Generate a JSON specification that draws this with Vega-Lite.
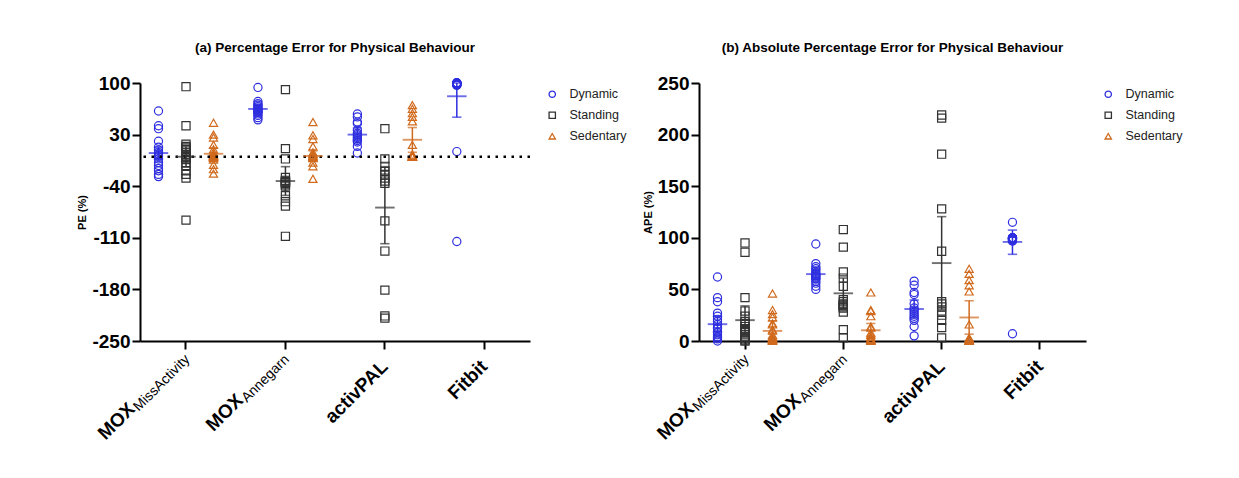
{
  "$schema": "https://vega.github.io/schema/vega-lite/v6.json",
  "padding": {"left": 76, "top": 40, "right": 5, "bottom": 5},
  "spacing": 10,
  "datasets": {
    "pts": [
      {"device":"MOX_MissActivity","group":"Dynamic","pe":62,"ape":62},
      {"device":"MOX_MissActivity","group":"Dynamic","pe":42,"ape":42},
      {"device":"MOX_MissActivity","group":"Dynamic","pe":38,"ape":38},
      {"device":"MOX_MissActivity","group":"Dynamic","pe":21,"ape":21},
      {"device":"MOX_MissActivity","group":"Dynamic","pe":13,"ape":13},
      {"device":"MOX_MissActivity","group":"Dynamic","pe":9,"ape":9},
      {"device":"MOX_MissActivity","group":"Dynamic","pe":6,"ape":6},
      {"device":"MOX_MissActivity","group":"Dynamic","pe":4,"ape":4},
      {"device":"MOX_MissActivity","group":"Dynamic","pe":2,"ape":2},
      {"device":"MOX_MissActivity","group":"Dynamic","pe":0,"ape":0},
      {"device":"MOX_MissActivity","group":"Dynamic","pe":-3,"ape":3},
      {"device":"MOX_MissActivity","group":"Dynamic","pe":-8,"ape":8},
      {"device":"MOX_MissActivity","group":"Dynamic","pe":-12,"ape":12},
      {"device":"MOX_MissActivity","group":"Dynamic","pe":-16,"ape":16},
      {"device":"MOX_MissActivity","group":"Dynamic","pe":-19,"ape":19},
      {"device":"MOX_MissActivity","group":"Dynamic","pe":-24,"ape":24},
      {"device":"MOX_MissActivity","group":"Dynamic","pe":-27,"ape":27},
      {"device":"MOX_MissActivity","group":"Standing","pe":95,"ape":95},
      {"device":"MOX_MissActivity","group":"Standing","pe":42,"ape":42},
      {"device":"MOX_MissActivity","group":"Standing","pe":17,"ape":17},
      {"device":"MOX_MissActivity","group":"Standing","pe":14,"ape":14},
      {"device":"MOX_MissActivity","group":"Standing","pe":12,"ape":12},
      {"device":"MOX_MissActivity","group":"Standing","pe":10,"ape":10},
      {"device":"MOX_MissActivity","group":"Standing","pe":6,"ape":6},
      {"device":"MOX_MissActivity","group":"Standing","pe":3,"ape":3},
      {"device":"MOX_MissActivity","group":"Standing","pe":1,"ape":1},
      {"device":"MOX_MissActivity","group":"Standing","pe":0,"ape":0},
      {"device":"MOX_MissActivity","group":"Standing","pe":-2,"ape":2},
      {"device":"MOX_MissActivity","group":"Standing","pe":-4,"ape":4},
      {"device":"MOX_MissActivity","group":"Standing","pe":-8,"ape":8},
      {"device":"MOX_MissActivity","group":"Standing","pe":-12,"ape":12},
      {"device":"MOX_MissActivity","group":"Standing","pe":-19,"ape":19},
      {"device":"MOX_MissActivity","group":"Standing","pe":-24,"ape":24},
      {"device":"MOX_MissActivity","group":"Standing","pe":-29,"ape":29},
      {"device":"MOX_MissActivity","group":"Standing","pe":-86,"ape":86},
      {"device":"MOX_MissActivity","group":"Sedentary","pe":46,"ape":46},
      {"device":"MOX_MissActivity","group":"Sedentary","pe":30,"ape":30},
      {"device":"MOX_MissActivity","group":"Sedentary","pe":26,"ape":26},
      {"device":"MOX_MissActivity","group":"Sedentary","pe":16,"ape":16},
      {"device":"MOX_MissActivity","group":"Sedentary","pe":10,"ape":10},
      {"device":"MOX_MissActivity","group":"Sedentary","pe":6,"ape":6},
      {"device":"MOX_MissActivity","group":"Sedentary","pe":3,"ape":3},
      {"device":"MOX_MissActivity","group":"Sedentary","pe":2,"ape":2},
      {"device":"MOX_MissActivity","group":"Sedentary","pe":1,"ape":1},
      {"device":"MOX_MissActivity","group":"Sedentary","pe":0,"ape":0},
      {"device":"MOX_MissActivity","group":"Sedentary","pe":0,"ape":0},
      {"device":"MOX_MissActivity","group":"Sedentary","pe":-1,"ape":1},
      {"device":"MOX_MissActivity","group":"Sedentary","pe":-2,"ape":2},
      {"device":"MOX_MissActivity","group":"Sedentary","pe":-4,"ape":4},
      {"device":"MOX_MissActivity","group":"Sedentary","pe":-11,"ape":11},
      {"device":"MOX_MissActivity","group":"Sedentary","pe":-17,"ape":17},
      {"device":"MOX_MissActivity","group":"Sedentary","pe":-23,"ape":23},
      {"device":"MOX_Annegarn","group":"Dynamic","pe":94,"ape":94},
      {"device":"MOX_Annegarn","group":"Dynamic","pe":75,"ape":75},
      {"device":"MOX_Annegarn","group":"Dynamic","pe":72,"ape":72},
      {"device":"MOX_Annegarn","group":"Dynamic","pe":70,"ape":70},
      {"device":"MOX_Annegarn","group":"Dynamic","pe":68,"ape":68},
      {"device":"MOX_Annegarn","group":"Dynamic","pe":66,"ape":66},
      {"device":"MOX_Annegarn","group":"Dynamic","pe":65,"ape":65},
      {"device":"MOX_Annegarn","group":"Dynamic","pe":64,"ape":64},
      {"device":"MOX_Annegarn","group":"Dynamic","pe":63,"ape":63},
      {"device":"MOX_Annegarn","group":"Dynamic","pe":62,"ape":62},
      {"device":"MOX_Annegarn","group":"Dynamic","pe":61,"ape":61},
      {"device":"MOX_Annegarn","group":"Dynamic","pe":60,"ape":60},
      {"device":"MOX_Annegarn","group":"Dynamic","pe":58,"ape":58},
      {"device":"MOX_Annegarn","group":"Dynamic","pe":56,"ape":56},
      {"device":"MOX_Annegarn","group":"Dynamic","pe":53,"ape":53},
      {"device":"MOX_Annegarn","group":"Dynamic","pe":50,"ape":50},
      {"device":"MOX_Annegarn","group":"Standing","pe":91,"ape":91},
      {"device":"MOX_Annegarn","group":"Standing","pe":11,"ape":11},
      {"device":"MOX_Annegarn","group":"Standing","pe":-3,"ape":3},
      {"device":"MOX_Annegarn","group":"Standing","pe":-28,"ape":28},
      {"device":"MOX_Annegarn","group":"Standing","pe":-32,"ape":32},
      {"device":"MOX_Annegarn","group":"Standing","pe":-33,"ape":33},
      {"device":"MOX_Annegarn","group":"Standing","pe":-34,"ape":34},
      {"device":"MOX_Annegarn","group":"Standing","pe":-35,"ape":35},
      {"device":"MOX_Annegarn","group":"Standing","pe":-36,"ape":36},
      {"device":"MOX_Annegarn","group":"Standing","pe":-38,"ape":38},
      {"device":"MOX_Annegarn","group":"Standing","pe":-40,"ape":40},
      {"device":"MOX_Annegarn","group":"Standing","pe":-53,"ape":53},
      {"device":"MOX_Annegarn","group":"Standing","pe":-61,"ape":61},
      {"device":"MOX_Annegarn","group":"Standing","pe":-67,"ape":67},
      {"device":"MOX_Annegarn","group":"Standing","pe":-108,"ape":108},
      {"device":"MOX_Annegarn","group":"Sedentary","pe":47,"ape":47},
      {"device":"MOX_Annegarn","group":"Sedentary","pe":29,"ape":29},
      {"device":"MOX_Annegarn","group":"Sedentary","pe":24,"ape":24},
      {"device":"MOX_Annegarn","group":"Sedentary","pe":14,"ape":14},
      {"device":"MOX_Annegarn","group":"Sedentary","pe":6,"ape":6},
      {"device":"MOX_Annegarn","group":"Sedentary","pe":4,"ape":4},
      {"device":"MOX_Annegarn","group":"Sedentary","pe":2,"ape":2},
      {"device":"MOX_Annegarn","group":"Sedentary","pe":1,"ape":1},
      {"device":"MOX_Annegarn","group":"Sedentary","pe":0,"ape":0},
      {"device":"MOX_Annegarn","group":"Sedentary","pe":0,"ape":0},
      {"device":"MOX_Annegarn","group":"Sedentary","pe":-1,"ape":1},
      {"device":"MOX_Annegarn","group":"Sedentary","pe":-2,"ape":2},
      {"device":"MOX_Annegarn","group":"Sedentary","pe":-8,"ape":8},
      {"device":"MOX_Annegarn","group":"Sedentary","pe":-13,"ape":13},
      {"device":"MOX_Annegarn","group":"Sedentary","pe":-30,"ape":30},
      {"device":"activPAL","group":"Dynamic","pe":58,"ape":58},
      {"device":"activPAL","group":"Dynamic","pe":54,"ape":54},
      {"device":"activPAL","group":"Dynamic","pe":47,"ape":47},
      {"device":"activPAL","group":"Dynamic","pe":45,"ape":45},
      {"device":"activPAL","group":"Dynamic","pe":36,"ape":36},
      {"device":"activPAL","group":"Dynamic","pe":32,"ape":32},
      {"device":"activPAL","group":"Dynamic","pe":30,"ape":30},
      {"device":"activPAL","group":"Dynamic","pe":28,"ape":28},
      {"device":"activPAL","group":"Dynamic","pe":26,"ape":26},
      {"device":"activPAL","group":"Dynamic","pe":24,"ape":24},
      {"device":"activPAL","group":"Dynamic","pe":22,"ape":22},
      {"device":"activPAL","group":"Dynamic","pe":20,"ape":20},
      {"device":"activPAL","group":"Dynamic","pe":14,"ape":14},
      {"device":"activPAL","group":"Dynamic","pe":5,"ape":5},
      {"device":"activPAL","group":"Standing","pe":38,"ape":38},
      {"device":"activPAL","group":"Standing","pe":-3,"ape":3},
      {"device":"activPAL","group":"Standing","pe":-13,"ape":13},
      {"device":"activPAL","group":"Standing","pe":-20,"ape":20},
      {"device":"activPAL","group":"Standing","pe":-25,"ape":25},
      {"device":"activPAL","group":"Standing","pe":-29,"ape":29},
      {"device":"activPAL","group":"Standing","pe":-33,"ape":33},
      {"device":"activPAL","group":"Standing","pe":-36,"ape":36},
      {"device":"activPAL","group":"Standing","pe":-87,"ape":87},
      {"device":"activPAL","group":"Standing","pe":-128,"ape":128},
      {"device":"activPAL","group":"Standing","pe":-181,"ape":181},
      {"device":"activPAL","group":"Standing","pe":-216,"ape":216},
      {"device":"activPAL","group":"Standing","pe":-219,"ape":219},
      {"device":"activPAL","group":"Sedentary","pe":70,"ape":70},
      {"device":"activPAL","group":"Sedentary","pe":65,"ape":65},
      {"device":"activPAL","group":"Sedentary","pe":59,"ape":59},
      {"device":"activPAL","group":"Sedentary","pe":54,"ape":54},
      {"device":"activPAL","group":"Sedentary","pe":48,"ape":48},
      {"device":"activPAL","group":"Sedentary","pe":16,"ape":16},
      {"device":"activPAL","group":"Sedentary","pe":3,"ape":3},
      {"device":"activPAL","group":"Sedentary","pe":2,"ape":2},
      {"device":"activPAL","group":"Sedentary","pe":1,"ape":1},
      {"device":"activPAL","group":"Sedentary","pe":0,"ape":0},
      {"device":"activPAL","group":"Sedentary","pe":0,"ape":0},
      {"device":"activPAL","group":"Sedentary","pe":0,"ape":0},
      {"device":"activPAL","group":"Sedentary","pe":0,"ape":0},
      {"device":"activPAL","group":"Sedentary","pe":0,"ape":0},
      {"device":"Fitbit","group":"Dynamic","pe":100,"ape":100},
      {"device":"Fitbit","group":"Dynamic","pe":100,"ape":100},
      {"device":"Fitbit","group":"Dynamic","pe":100,"ape":100},
      {"device":"Fitbit","group":"Dynamic","pe":100,"ape":100},
      {"device":"Fitbit","group":"Dynamic","pe":100,"ape":100},
      {"device":"Fitbit","group":"Dynamic","pe":100,"ape":100},
      {"device":"Fitbit","group":"Dynamic","pe":99,"ape":99},
      {"device":"Fitbit","group":"Dynamic","pe":99,"ape":99},
      {"device":"Fitbit","group":"Dynamic","pe":99,"ape":99},
      {"device":"Fitbit","group":"Dynamic","pe":99,"ape":99},
      {"device":"Fitbit","group":"Dynamic","pe":98,"ape":98},
      {"device":"Fitbit","group":"Dynamic","pe":98,"ape":98},
      {"device":"Fitbit","group":"Dynamic","pe":98,"ape":98},
      {"device":"Fitbit","group":"Dynamic","pe":97,"ape":97},
      {"device":"Fitbit","group":"Dynamic","pe":97,"ape":97},
      {"device":"Fitbit","group":"Dynamic","pe":7,"ape":7},
      {"device":"Fitbit","group":"Dynamic","pe":-115,"ape":115}
    ],
    "sum": [
      {"device":"MOX_MissActivity","group":"Dynamic","pe_mean":5,"pe_lo":-3,"pe_hi":13,"ape_mean":16.3,"ape_lo":9,"ape_hi":24},
      {"device":"MOX_MissActivity","group":"Standing","pe_mean":0,"pe_lo":-14,"pe_hi":14,"ape_mean":20.2,"ape_lo":6,"ape_hi":34},
      {"device":"MOX_MissActivity","group":"Sedentary","pe_mean":4,"pe_lo":-4,"pe_hi":12,"ape_mean":9.8,"ape_lo":1,"ape_hi":19.5},
      {"device":"MOX_Annegarn","group":"Dynamic","pe_mean":64.8,"pe_lo":60,"pe_hi":70,"ape_mean":64.8,"ape_lo":60,"ape_hi":70},
      {"device":"MOX_Annegarn","group":"Standing","pe_mean":-33,"pe_lo":-52.5,"pe_hi":-13.5,"ape_mean":46.2,"ape_lo":31,"ape_hi":61},
      {"device":"MOX_Annegarn","group":"Sedentary","pe_mean":1,"pe_lo":-6,"pe_hi":8,"ape_mean":10.4,"ape_lo":4,"ape_hi":17},
      {"device":"activPAL","group":"Dynamic","pe_mean":30,"pe_lo":22,"pe_hi":39,"ape_mean":31,"ape_lo":22.3,"ape_hi":39.7},
      {"device":"activPAL","group":"Standing","pe_mean":-69,"pe_lo":-118,"pe_hi":-13.5,"ape_mean":75.5,"ape_lo":30.5,"ape_hi":120.5},
      {"device":"activPAL","group":"Sedentary","pe_mean":23,"pe_lo":6,"pe_hi":39.6,"ape_mean":22.8,"ape_lo":6.6,"ape_hi":39},
      {"device":"Fitbit","group":"Dynamic","pe_mean":82,"pe_lo":53.6,"pe_hi":100,"ape_mean":96,"ape_lo":84,"ape_hi":107.5}
    ]
  },
  "config": {
    "font": "Liberation Sans",
    "view": {"stroke": null},
    "axis": {
      "grid": false,
      "domainColor": "#000", "domainWidth": 2,
      "tickColor": "#000", "tickWidth": 2, "tickSize": 8,
      "labelColor": "#000", "labelFont": "Liberation Sans", "labelFontWeight": "bold", "labelFontSize": 19,
      "titleFont": "Liberation Sans", "titleFontWeight": "bold", "titleFontSize": 11, "titleColor": "#000"
    },
    "legend": {
      "orient": "right", "offset": 11, "padding": 5,
      "labelFont": "Liberation Sans", "labelFontSize": 12.5, "labelColor": "#222",
      "symbolSize": 40, "symbolStrokeWidth": 1.3, "rowPadding": 8, "labelOffset": 11
    },
    "title": {"font": "Liberation Sans", "fontSize": 13.5, "fontWeight": "bold", "color": "#000", "offset": 20, "anchor": "middle"}
  },
  "resolve": {
    "scale": {"color": "independent", "shape": "independent"},
    "legend": {"color": "independent", "shape": "independent"}
  },
  "hconcat": [
    {
      "title": {"text": "(a) Percentage Error for Physical Behaviour"},
      "width": 390, "height": 258,
      "resolve": {"axis": {"x": "independent"}},
      "layer": [
        {
          "data": {"name": "pts"},
          "mark": {"type": "point", "filled": false, "strokeWidth": 1.2, "opacity": 1, "size": 66},
          "encoding": {
            "x": {"field": "device", "type": "nominal",
              "scale": {"type": "band", "domain": ["MOX_MissActivity", "MOX_Annegarn", "activPAL", "Fitbit"], "paddingInner": 0.078, "paddingOuter": 0},
              "axis": {"title": null, "orient": "bottom", "labelAngle": -45, "labelAlign": "right", "labelBaseline": "middle", "labelPadding": 14,
                "labelExpr": "(datum.value == 'MOX_MissActivity' || datum.value == 'MOX_Annegarn') ? '' : datum.value"}},
            "xOffset": {"field": "group", "type": "nominal", "scale": {"type": "point", "domain": ["Dynamic", "Standing", "Sedentary"], "range": [18.5, 73.5], "padding": 0}},
            "y": {"field": "pe", "type": "quantitative",
              "scale": {"domain": [-250, 100], "nice": false, "zero": false},
              "axis": {"title": "PE (%)", "values": [-250, -180, -110, -40, 30, 100], "labelExpr": "'' + datum.value", "labelPadding": 2, "titlePadding": 4}},
            "color": {"field": "group", "type": "nominal", "scale": {"domain": ["Dynamic", "Standing", "Sedentary"], "range": ["#2e2ee0", "#333333", "#d06a1c"]}, "legend": {"title": null}},
            "shape": {"field": "group", "type": "nominal", "scale": {"domain": ["Dynamic", "Standing", "Sedentary"], "range": ["circle", "square", "triangle-up"]}, "legend": {"title": null}}
          }
        },
        {
          "data": {"values": [{}]},
          "mark": {"type": "rule", "strokeDash": [2.5, 5.5], "strokeWidth": 2.5, "color": "#000"},
          "encoding": {"y": {"datum": 0, "type": "quantitative", "axis": {"title": "PE (%)", "values": [-250, -180, -110, -40, 30, 100], "labelExpr": "'' + datum.value", "labelPadding": 2, "titlePadding": 4}}}
        },
        {
          "data": {"name": "sum"},
          "mark": {"type": "rule", "strokeWidth": 1.5},
          "encoding": {
            "x": {"field": "device", "type": "nominal",
              "axis": {"title": null, "orient": "bottom", "domain": false, "ticks": false, "labelAngle": -45, "labelAlign": "right", "labelBaseline": "middle",
                "labelOffset": -54, "labelPadding": 64.5,
                "labelExpr": "datum.value == 'MOX_MissActivity' ? 'MOX' : ''"}},
            "xOffset": {"field": "group", "type": "nominal"},
            "y": {"field": "pe_lo", "type": "quantitative", "axis": {"title": "PE (%)", "values": [-250, -180, -110, -40, 30, 100], "labelExpr": "'' + datum.value", "labelPadding": 2, "titlePadding": 4}},
            "y2": {"field": "pe_hi"},
            "color": {"field": "group", "type": "nominal", "legend": {"title": null}}
          }
        },
        {
          "data": {"name": "sum"},
          "mark": {"type": "tick", "size": 8, "thickness": 0.3, "filled": false, "strokeWidth": 1.3},
          "encoding": {
            "x": {"field": "device", "type": "nominal",
              "axis": {"title": null, "orient": "bottom", "domain": false, "ticks": false, "labelAngle": -45, "labelAlign": "right", "labelBaseline": "middle",
                "labelOffset": -45.4, "labelPadding": 55.8,
                "labelExpr": "datum.value == 'MOX_Annegarn' ? 'MOX' : ''"}},
            "xOffset": {"field": "group", "type": "nominal"},
            "y": {"field": "pe_lo", "type": "quantitative", "axis": {"title": "PE (%)", "values": [-250, -180, -110, -40, 30, 100], "labelExpr": "'' + datum.value", "labelPadding": 2, "titlePadding": 4}},
            "color": {"field": "group", "type": "nominal", "legend": {"title": null}}
          }
        },
        {
          "data": {"name": "sum"},
          "mark": {"type": "tick", "size": 8, "thickness": 0.3, "filled": false, "strokeWidth": 1.3},
          "encoding": {
            "x": {"field": "device", "type": "nominal", "axis": null},
            "xOffset": {"field": "group", "type": "nominal"},
            "y": {"field": "pe_hi", "type": "quantitative", "axis": {"title": "PE (%)", "values": [-250, -180, -110, -40, 30, 100], "labelExpr": "'' + datum.value", "labelPadding": 2, "titlePadding": 4}},
            "color": {"field": "group", "type": "nominal", "legend": {"title": null}}
          }
        },
        {
          "data": {"name": "sum"},
          "mark": {"type": "tick", "size": 18, "thickness": 0.4, "filled": false, "strokeWidth": 1.5},
          "encoding": {
            "x": {"field": "device", "type": "nominal",
              "axis": {"title": null, "orient": "bottom", "domain": false, "ticks": false, "labelAngle": -45, "labelAlign": "right", "labelBaseline": "middle",
                "labelOffset": 1.8, "labelPadding": 15.8,
                "labelFontWeight": "normal", "labelFontSize": 14,
                "labelExpr": "datum.value == 'MOX_MissActivity' ? 'MissActivity' : datum.value == 'MOX_Annegarn' ? 'Annegarn' : ''"}},
            "xOffset": {"field": "group", "type": "nominal"},
            "y": {"field": "pe_mean", "type": "quantitative", "axis": {"title": "PE (%)", "values": [-250, -180, -110, -40, 30, 100], "labelExpr": "'' + datum.value", "labelPadding": 2, "titlePadding": 4}},
            "color": {"field": "group", "type": "nominal", "legend": {"title": null}}
          }
        }
      ]
    },
    {
      "title": {"text": "(b) Absolute Percentage Error for Physical Behaviour"},
      "width": 387, "height": 258,
      "resolve": {"axis": {"x": "independent"}},
      "layer": [
        {
          "data": {"name": "pts"},
          "mark": {"type": "point", "filled": false, "strokeWidth": 1.2, "opacity": 1, "size": 66},
          "encoding": {
            "x": {"field": "device", "type": "nominal",
              "scale": {"type": "band", "domain": ["MOX_MissActivity", "MOX_Annegarn", "activPAL", "Fitbit"], "paddingInner": 0.064, "paddingOuter": 0},
              "axis": {"title": null, "orient": "bottom", "labelAngle": -45, "labelAlign": "right", "labelBaseline": "middle", "labelPadding": 14,
                "labelExpr": "(datum.value == 'MOX_MissActivity' || datum.value == 'MOX_Annegarn') ? '' : datum.value"}},
            "xOffset": {"field": "group", "type": "nominal", "scale": {"type": "point", "domain": ["Dynamic", "Standing", "Sedentary"], "range": [18.5, 73.5], "padding": 0}},
            "y": {"field": "ape", "type": "quantitative",
              "scale": {"domain": [0, 250], "nice": false},
              "axis": {"title": "APE (%)", "values": [0, 50, 100, 150, 200, 250], "labelPadding": 2, "titlePadding": 4}},
            "color": {"field": "group", "type": "nominal", "scale": {"domain": ["Dynamic", "Standing", "Sedentary"], "range": ["#2e2ee0", "#333333", "#d06a1c"]}, "legend": {"title": null}},
            "shape": {"field": "group", "type": "nominal", "scale": {"domain": ["Dynamic", "Standing", "Sedentary"], "range": ["circle", "square", "triangle-up"]}, "legend": {"title": null}}
          }
        },
        {
          "data": {"name": "sum"},
          "mark": {"type": "rule", "strokeWidth": 1.5},
          "encoding": {
            "x": {"field": "device", "type": "nominal",
              "axis": {"title": null, "orient": "bottom", "domain": false, "ticks": false, "labelAngle": -45, "labelAlign": "right", "labelBaseline": "middle",
                "labelOffset": -54, "labelPadding": 64.5,
                "labelExpr": "datum.value == 'MOX_MissActivity' ? 'MOX' : ''"}},
            "xOffset": {"field": "group", "type": "nominal"},
            "y": {"field": "ape_lo", "type": "quantitative", "axis": {"title": "APE (%)", "values": [0, 50, 100, 150, 200, 250], "labelPadding": 2, "titlePadding": 4}},
            "y2": {"field": "ape_hi"},
            "color": {"field": "group", "type": "nominal", "legend": {"title": null}}
          }
        },
        {
          "data": {"name": "sum"},
          "mark": {"type": "tick", "size": 8, "thickness": 0.3, "filled": false, "strokeWidth": 1.3},
          "encoding": {
            "x": {"field": "device", "type": "nominal",
              "axis": {"title": null, "orient": "bottom", "domain": false, "ticks": false, "labelAngle": -45, "labelAlign": "right", "labelBaseline": "middle",
                "labelOffset": -45.4, "labelPadding": 55.8,
                "labelExpr": "datum.value == 'MOX_Annegarn' ? 'MOX' : ''"}},
            "xOffset": {"field": "group", "type": "nominal"},
            "y": {"field": "ape_lo", "type": "quantitative", "axis": {"title": "APE (%)", "values": [0, 50, 100, 150, 200, 250], "labelPadding": 2, "titlePadding": 4}},
            "color": {"field": "group", "type": "nominal", "legend": {"title": null}}
          }
        },
        {
          "data": {"name": "sum"},
          "mark": {"type": "tick", "size": 8, "thickness": 0.3, "filled": false, "strokeWidth": 1.3},
          "encoding": {
            "x": {"field": "device", "type": "nominal", "axis": null},
            "xOffset": {"field": "group", "type": "nominal"},
            "y": {"field": "ape_hi", "type": "quantitative", "axis": {"title": "APE (%)", "values": [0, 50, 100, 150, 200, 250], "labelPadding": 2, "titlePadding": 4}},
            "color": {"field": "group", "type": "nominal", "legend": {"title": null}}
          }
        },
        {
          "data": {"name": "sum"},
          "mark": {"type": "tick", "size": 18, "thickness": 0.4, "filled": false, "strokeWidth": 1.5},
          "encoding": {
            "x": {"field": "device", "type": "nominal",
              "axis": {"title": null, "orient": "bottom", "domain": false, "ticks": false, "labelAngle": -45, "labelAlign": "right", "labelBaseline": "middle",
                "labelOffset": 1.8, "labelPadding": 15.8,
                "labelFontWeight": "normal", "labelFontSize": 14,
                "labelExpr": "datum.value == 'MOX_MissActivity' ? 'MissActivity' : datum.value == 'MOX_Annegarn' ? 'Annegarn' : ''"}},
            "xOffset": {"field": "group", "type": "nominal"},
            "y": {"field": "ape_mean", "type": "quantitative", "axis": {"title": "APE (%)", "values": [0, 50, 100, 150, 200, 250], "labelPadding": 2, "titlePadding": 4}},
            "color": {"field": "group", "type": "nominal", "legend": {"title": null}}
          }
        }
      ]
    }
  ]
}
